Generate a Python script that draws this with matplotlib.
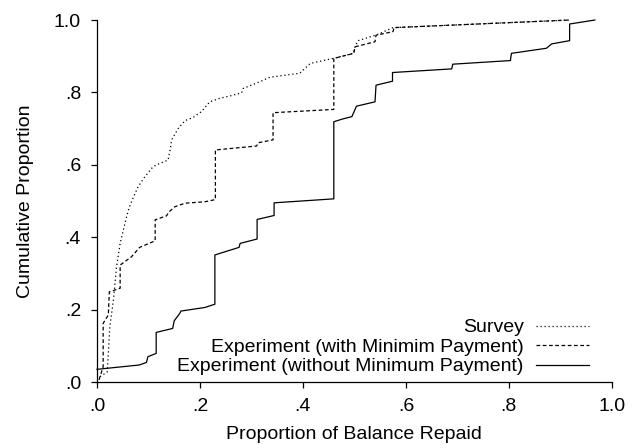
import numpy as np
import matplotlib
matplotlib.use('Agg')
import matplotlib.pyplot as plt

plt.rcParams['font.family'] = ['Liberation Sans', 'DejaVu Sans']

# Survey
survey_x = [0.006, 0.020, 0.025, 0.032, 0.038, 0.045, 0.056, 0.061, 0.067, 0.080,
            0.093, 0.109, 0.122, 0.138, 0.142, 0.145, 0.158, 0.171, 0.187, 0.203,
            0.219, 0.239, 0.258, 0.281, 0.284, 0.317, 0.336, 0.394, 0.414, 0.459,
            0.498, 0.501, 0.507, 0.543, 0.575, 0.918]
survey_y = [0.015, 0.028, 0.153, 0.227, 0.318, 0.383, 0.448, 0.475, 0.498, 0.540,
            0.567, 0.595, 0.604, 0.613, 0.641, 0.669, 0.701, 0.722, 0.731, 0.747,
            0.774, 0.784, 0.790, 0.799, 0.811, 0.830, 0.842, 0.853, 0.880, 0.894,
            0.908, 0.926, 0.943, 0.959, 0.979, 1.000]

# Experiment (with minimum payment)
with_x = [0.004, 0.012, 0.012, 0.022, 0.024, 0.045, 0.045, 0.067, 0.083, 0.113,
          0.113, 0.135, 0.140, 0.151, 0.171, 0.210, 0.230, 0.230, 0.310, 0.313,
          0.342, 0.342, 0.460, 0.460, 0.499, 0.501, 0.540, 0.542, 0.575, 0.577,
          0.918]
with_y = [0.006, 0.042, 0.162, 0.185, 0.249, 0.259, 0.323, 0.346, 0.372, 0.390,
          0.448, 0.459, 0.470, 0.484, 0.494, 0.498, 0.504, 0.641, 0.652, 0.661,
          0.669, 0.744, 0.753, 0.894, 0.908, 0.926, 0.940, 0.958, 0.968, 0.979,
          1.000]

# Experiment (without minimum payment)
without_x = [0.000, 0.082, 0.096, 0.099, 0.115, 0.115, 0.147, 0.150, 0.161, 0.163,
             0.210, 0.229, 0.229, 0.276, 0.278, 0.311, 0.311, 0.344, 0.344, 0.460,
             0.460, 0.478, 0.495, 0.504, 0.540, 0.542, 0.574, 0.574, 0.689, 0.691,
             0.803, 0.805, 0.873, 0.883, 0.918, 0.918, 0.967]
without_y = [0.035, 0.047, 0.054, 0.070, 0.079, 0.137, 0.148, 0.169, 0.190, 0.196,
             0.206, 0.215, 0.351, 0.372, 0.383, 0.395, 0.449, 0.460, 0.495, 0.506,
             0.719, 0.727, 0.733, 0.762, 0.774, 0.820, 0.831, 0.855, 0.865, 0.878,
             0.888, 0.908, 0.922, 0.934, 0.943, 0.989, 1.000]

ticks = [0, 0.2, 0.4, 0.6, 0.8, 1.0]
tick_labels = ['.0', '.2', '.4', '.6', '.8', '1.0']

fig = plt.figure(figsize=(6.38, 4.48), dpi=100)
ax = fig.add_axes([0.152, 0.1473, 0.807, 0.808])

ax.plot(survey_x, survey_y, color='black', lw=0.9, linestyle=(0, (1, 2.2)),
        label='Survey', clip_on=False)
ax.plot(with_x, with_y, color='black', lw=0.9, linestyle=(0, (3, 2)),
        label='Experiment (with Minimim Payment)', clip_on=False)
ax.plot(without_x, without_y, color='black', lw=0.9,
        label='Experiment (without Minimum Payment)', clip_on=False)

ax.set_xlim(0, 1)
ax.set_ylim(0, 1)
ax.set_xticks(ticks)
ax.set_xticklabels(tick_labels)
ax.set_yticks(ticks)
ax.set_yticklabels(tick_labels)
ax.tick_params(labelsize=14, length=4.5, width=0.9, pad=7, direction='out')

for s in ['top', 'right']:
    ax.spines[s].set_visible(False)
for s in ['left', 'bottom']:
    ax.spines[s].set_linewidth(0.9)

ax.set_xlabel('Proportion of Balance Repaid', fontsize=14, labelpad=8)
ax.set_ylabel('Cumulative Proportion', fontsize=14, labelpad=14)

ax.legend(loc='lower right', bbox_to_anchor=(0.955, 0.018), frameon=False,
          markerfirst=False, fontsize=14, handlelength=2.7, handletextpad=0.65,
          labelspacing=0.1, borderpad=0, borderaxespad=0)

fig.savefig('out.png', dpi=100)
